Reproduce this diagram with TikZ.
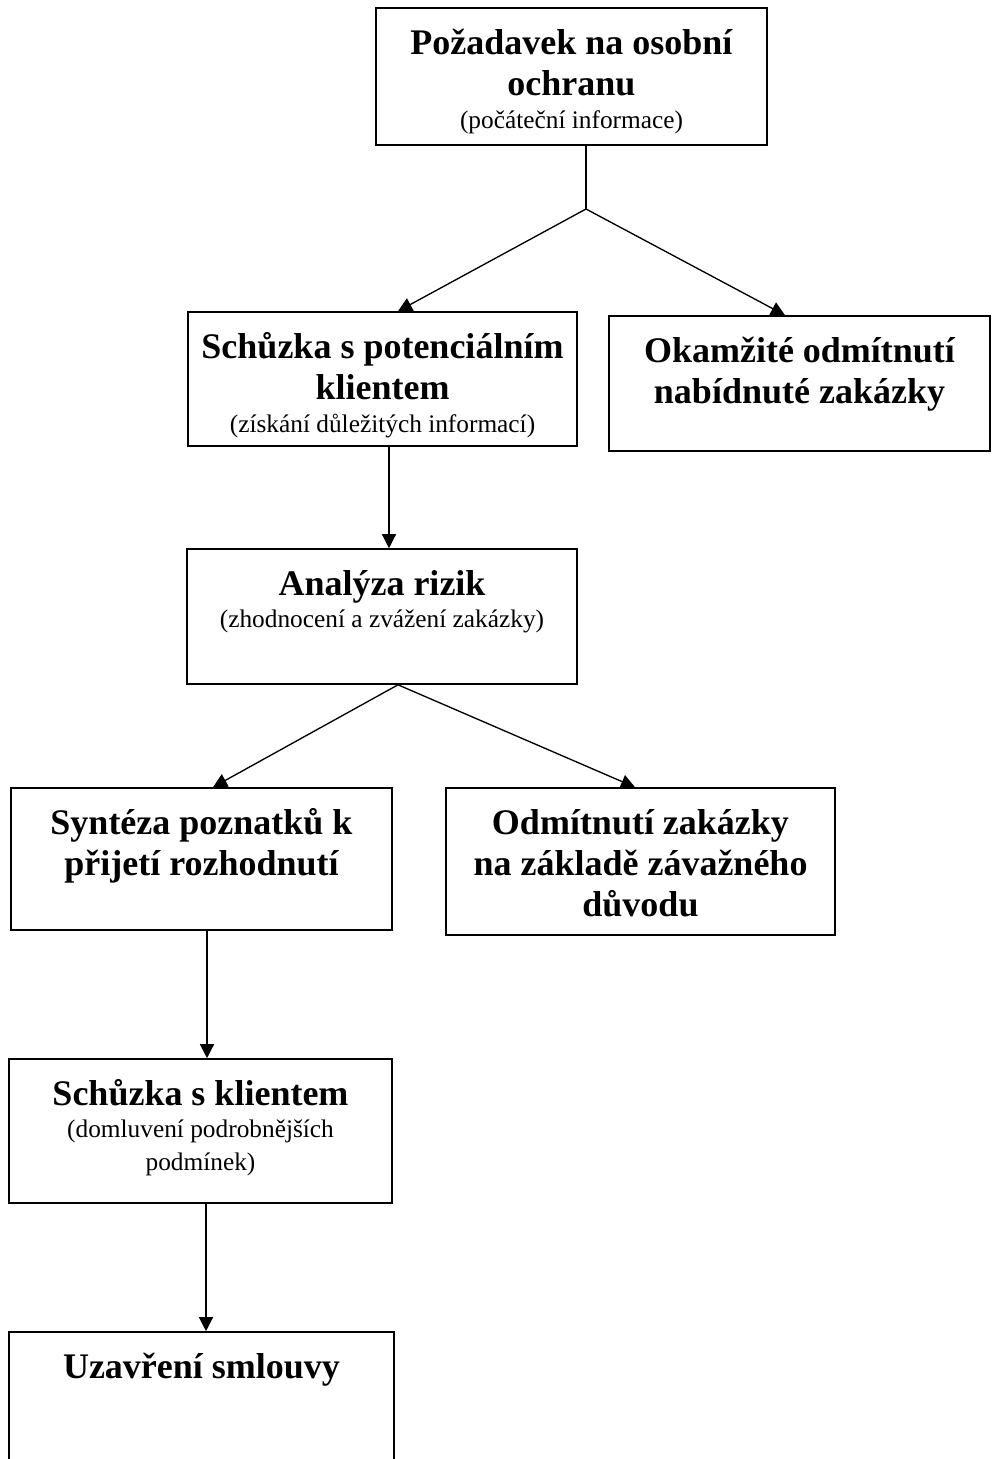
\documentclass[tikz,border=0pt]{standalone}
\usepackage{fontspec}
\setmainfont{Liberation Serif}
\usetikzlibrary{arrows.meta,calc}

\newlength\px
\setlength\px{0.75pt}
\newcommand{\nadpis}[1]{{\fontsize{27}{31}\selectfont\bfseries\strut #1\par}}
\newcommand{\popis}[1]{{\fontsize{19}{24.5}\selectfont #1\par}}
\newcommand{\obsah}[3]{\parbox[c][#2\px][t]{#1\px}{\centering\vspace{13pt}#3}}

\begin{document}
\begin{tikzpicture}[x=0.75pt,y=-0.75pt,
    krok/.style={draw, line width=1.2pt, inner sep=0pt},
    sipka/.style={-{Triangle[width=10.5pt,length=10.5pt]}, line width=1pt},
    spoj/.style={line width=1pt}]
    \clip (0,0) rectangle (992,1459);

    % Boxes
    \node[krok] (pozadavek) at (571.5,76.5) {\obsah{391}{137}{\nadpis{Požadavek na osobní\\ochranu}\popis{(počáteční informace)}}};
    \node[krok] (schuzka) at (382.5,379) {\obsah{389}{134}{\nadpis{Schůzka s potenciálním\\klientem}\popis{(získání důležitých informací)}}};
    \node[krok] (okamzite) at (799.5,383.5) {\obsah{381}{135}{\nadpis{Okamžité odmítnutí\\nabídnuté zakázky}}};
    \node[krok] (analyza) at (382,616.5) {\obsah{390}{135}{\nadpis{Analýza rizik}\popis{(zhodnocení a zvážení zakázky)}}};
    \node[krok] (synteza) at (201.5,859) {\obsah{381}{142}{\nadpis{Syntéza poznatků k\\přijetí rozhodnutí}}};
    \node[krok] (odmitnuti) at (640.5,861.5) {\obsah{389}{147}{\nadpis{Odmítnutí zakázky\\na základě závažného\\důvodu}}};
    \node[krok] (klient) at (200.5,1131) {\obsah{383}{144}{\nadpis{Schůzka s klientem}\popis{(domluvení podrobnějších\\podmínek)}}};
    \node[krok] (smlouva) at (201.5,1407) {\obsah{385}{150}{\nadpis{Uzavření smlouvy}}};

    % Branch points
    \coordinate (rozcesti1) at (586,209);
    \coordinate (rozcesti2) at ($(analyza.south)+(16,0)$);

    % Connectors
    \draw[spoj] ($(pozadavek.south)+(14.5,0)$) -- (rozcesti1);
    \draw[sipka] (rozcesti1) -- ($(schuzka.north)+(15.5,0)$);
    \draw[sipka] (rozcesti1) -- ($(okamzite.north)+(-14.5,0)$);
    \draw[sipka] ($(schuzka.south)+(6.5,0)$) coordinate (s1) -- (s1 |- analyza.north);
    \draw[sipka] (rozcesti2) -- ($(synteza.north)+(11.5,0)$);
    \draw[sipka] (rozcesti2) -- ($(odmitnuti.north)+(-5.5,0)$);
    \draw[sipka] ($(synteza.south)+(5.5,0)$) coordinate (s2) -- (s2 |- klient.north);
    \draw[sipka] ($(klient.south)+(5.5,0)$) coordinate (s3) -- (s3 |- smlouva.north);
\end{tikzpicture}
\end{document}
